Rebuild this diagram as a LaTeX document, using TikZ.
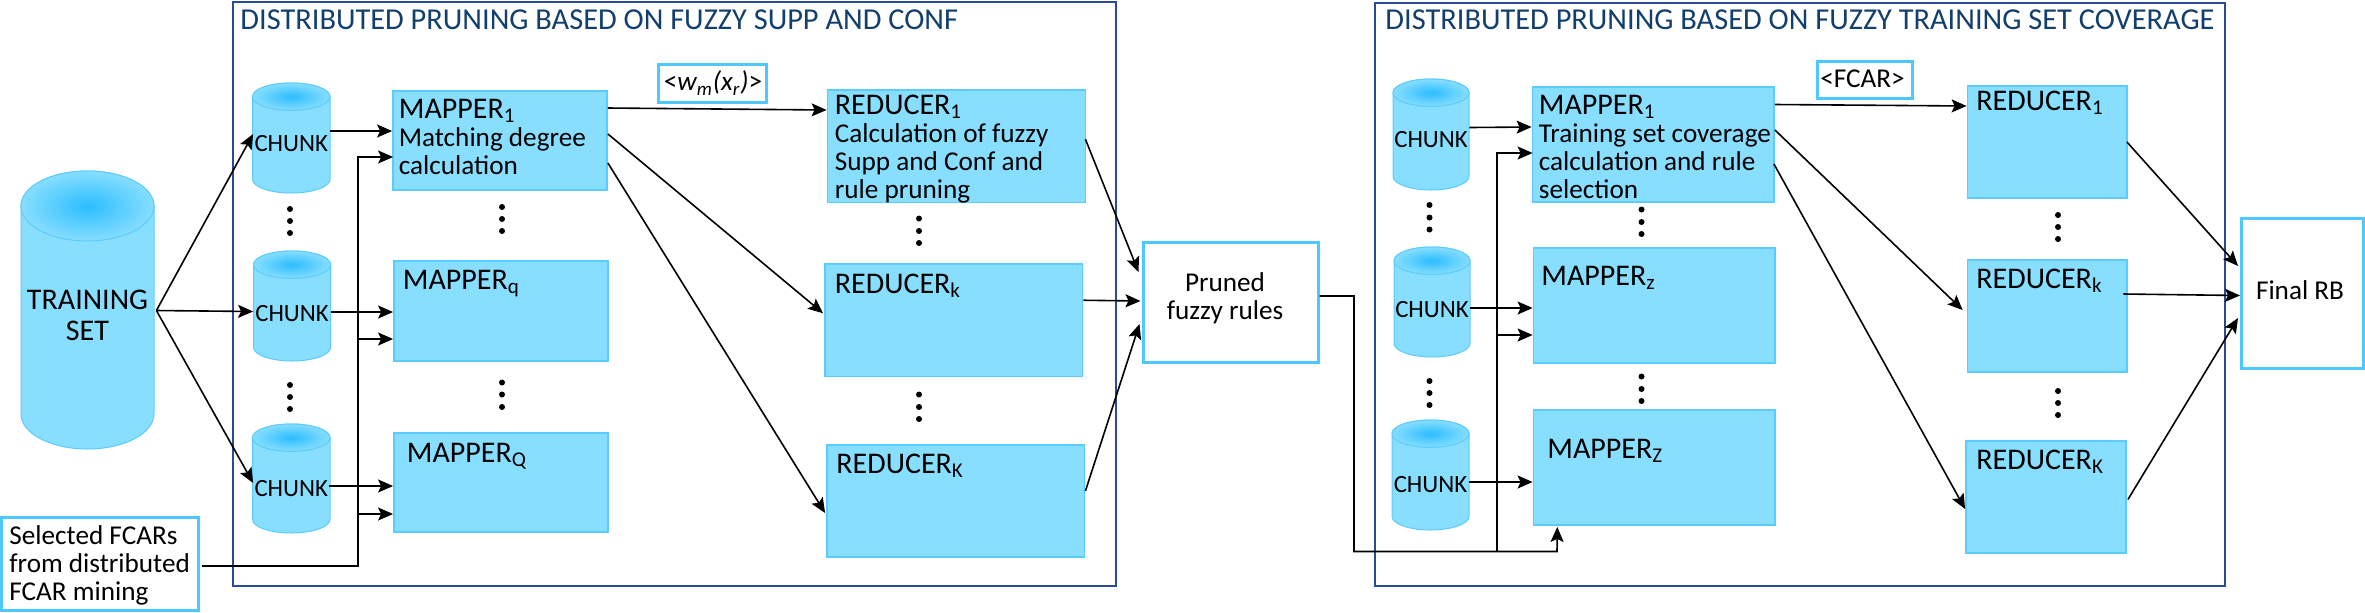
\documentclass[tikz,border=0pt]{standalone}
\usepackage{fontspec}
\setmainfont{Carlito}
\usetikzlibrary{arrows.meta}
\definecolor{bodyblue}{HTML}{87DEFF}
\definecolor{edgeblue}{HTML}{5CCBFF}
\definecolor{corecyan}{HTML}{2BBDFF}
\definecolor{framecyan}{HTML}{4CC9FF}
\definecolor{outerblue}{HTML}{2B4C94}
\definecolor{titleblue}{HTML}{123F6D}
\newcommand\Sub[1]{\textsubscript{#1}}
\newcommand\df{\fontsize{13.6}{14}\selectfont}
\tikzset{
  x=0.5pt,y=-0.5pt,
  dx/.style={xshift=0.5pt*#1},
  dy/.style={yshift=-0.5pt*#1},
  txt/.style={font=\df,inner sep=0pt,text=black},
  bluebox/.style={rectangle,draw=edgeblue,fill=bodyblue,line width=0.9pt,inner sep=0pt},
  whitebox/.style={rectangle,draw=framecyan,fill=white,line width=1.5pt,inner sep=0pt},
  outerbox/.style={rectangle,draw=outerblue,line width=0.8pt,inner sep=0pt},
  ttl/.style={font=\fontsize{15.2}{15}\selectfont,inner sep=0pt,text=titleblue,anchor=base west},
  lbl/.style={font=\fontsize{15}{14}\selectfont,inner sep=0pt,text=black,anchor=base west,align=left},
  conn/.style={draw=black,line width=0.8pt},
  arr/.style={conn,-{Stealth[length=7.5pt,width=6.5pt,inset=1.5pt]}},
  vdot/.style={circle,fill=black,inner sep=0pt,minimum size=3pt},
}
% rectangle node from its corners: style, name, x1, y1, x2, y2
\newcommand\Rct[6]{\node[#1,minimum width={(#5-#3)*0.5pt},minimum height={(#6-#4)*0.5pt}] (#2) at ({(#3+#5)/2},{(#4+#6)/2}) {};}
% cylinder: name, x1, y1, x2, y2, ry, text font, text, text drop
\newcommand\Cyl[9]{%
  \path[fill=bodyblue,draw=edgeblue,line width=0.5pt]
    (#2,{#3+#6}) -- (#2,{#5-#6})
    arc[start angle=180,end angle=360,x radius={(#4-#2)/4*1pt},y radius={#6*0.5pt}]
    -- (#4,{#3+#6})
    arc[start angle=0,end angle=180,x radius={(#4-#2)/4*1pt},y radius={#6*0.5pt}] -- cycle;
  \shade[inner color=corecyan,outer color=bodyblue,draw=edgeblue,line width=0.5pt]
    ({(#2+#4)/2},{#3+#6}) ellipse [x radius={(#4-#2)/4*1pt},y radius={#6*0.5pt}];
  \node[rectangle,inner sep=0pt,align=center,font=#7,text=black,minimum width={(#4-#2)*0.5pt},minimum height={(#5-#3)*0.5pt}] (#1)
    at ({(#2+#4)/2},{(#3+#5)/2}) {\raisebox{-#9pt}[0pt][0pt]{\begin{tabular}[b]{@{}c@{}}#8\end{tabular}}};}
% three dots: column, y1, y2, y3, prefix
\newcommand\Dots[5]{\node[vdot] (#5a) at (#1,#2) {};\node[vdot] (#5b) at (#1,#3) {};\node[vdot] (#5c) at (#1,#4) {};}
\begin{document}
\begin{tikzpicture}
\useasboundingbox (0,0) rectangle (2365,612);
% outer frames
\Rct{outerbox}{frameA}{233}{2}{1116}{586}
\Rct{outerbox}{frameB}{1375}{3}{2225}{586}
\node[ttl] (titleA) at (240,29) {DISTRIBUTED PRUNING BASED ON FUZZY SUPP AND CONF};
\node[ttl] (titleB) at (1385,29) {DISTRIBUTED PRUNING BASED ON FUZZY TRAINING SET COVERAGE};
% cylinders
\def\cfnt{\fontsize{12.4}{12}\selectfont}
\def\tfnt{\fontsize{15}{15.5}\selectfont}
\Cyl{ts}{21}{171}{154}{449}{35}{\tfnt}{TRAINING\\SET}{15.25}
\Cyl{ca}{252.5}{83}{330}{193}{13.7}{\cfnt}{CHUNK}{6.6}
\Cyl{cb}{253.5}{251}{330.6}{361}{13.7}{\cfnt}{CHUNK}{7.6}
\Cyl{cc}{252.5}{424}{330}{533}{13.7}{\cfnt}{CHUNK}{8.85}
\Cyl{cd}{1393}{79}{1469}{190}{13.7}{\cfnt}{CHUNK}{6.6}
\Cyl{ce}{1394}{247}{1470}{357}{13.7}{\cfnt}{CHUNK}{7.6}
\Cyl{cf}{1392}{420}{1469}{530}{13.7}{\cfnt}{CHUNK}{8.6}
% left mappers and reducers
\Rct{bluebox}{ma}{393}{91}{607}{190}
\Rct{bluebox}{mb}{394}{261}{608}{361}
\Rct{bluebox}{mc}{394}{433}{608}{532}
\Rct{bluebox}{ra}{827.5}{90}{1085.5}{202.5}
\Rct{bluebox}{rb}{825}{264}{1082.5}{376.5}
\Rct{bluebox}{rc}{827}{445}{1084.5}{557}
\node[lbl] (mat) at (398.5,174.5) {MAPPER\Sub{1}\\{\df Matching degree}\\{\df calculation}};
\node[lbl] (mbt) at (402.5,289) {MAPPER\Sub{q}};
\node[lbl] (mct) at (406.5,462) {MAPPER\Sub{Q}};
\node[lbl] (rat) at (834.5,198) {REDUCER\Sub{1}\\{\df Calculation of fuzzy}\\{\df Supp and Conf and}\\{\df rule pruning}};
\node[lbl] (rbt) at (834.5,293) {REDUCER\Sub{k}};
\node[lbl] (rct) at (836,473) {REDUCER\Sub{K}};
% right mappers and reducers
\Rct{bluebox}{md}{1532.5}{87}{1774}{202}
\Rct{bluebox}{me}{1533.5}{248}{1775}{363}
\Rct{bluebox}{mf}{1533.5}{410}{1775}{525}
\Rct{bluebox}{rd}{1967.5}{86}{2127}{198}
\Rct{bluebox}{re}{1967.5}{260}{2127}{372}
\Rct{bluebox}{rf}{1966}{441}{2126}{553}
\node[lbl] (mdt) at (1538.5,198) {MAPPER\Sub{1}\\{\df Training set coverage}\\{\df calculation and rule}\\{\df selection}};
\node[lbl] (met) at (1541,285) {MAPPER\Sub{z}};
\node[lbl] (mft) at (1547,458.5) {MAPPER\Sub{Z}};
\node[lbl] (rdt) at (1976,110) {REDUCER\Sub{1}};
\node[lbl] (ret) at (1976,288) {REDUCER\Sub{k}};
\node[lbl] (rft) at (1976,469) {REDUCER\Sub{K}};
% white boxes
\Rct{whitebox}{wm}{658}{64}{766}{102}
\node[txt] (wmt) at (713,83) {<\textit{w\Sub{m}(x\Sub{r})}>};
\Rct{whitebox}{fcar}{1817.5}{61}{1912.5}{98}
\node[txt] (fcart) at (1862.5,78.5) {<FCAR>};
\Rct{whitebox}{pr}{1143}{242}{1318}{362}
\node[txt,align=center,anchor=base] (prt) at (1225,319) {Pruned\\fuzzy rules};
\Rct{whitebox}{sel}{1.5}{517}{198}{610.5}
\node[txt,anchor=base west,align=left] (selt) at (9,600) {Selected FCARs\\from distributed\\FCAR mining};
\Rct{whitebox}{fin}{2241.5}{218}{2363.5}{368}
\node[txt] (fint) at (2300,290) {Final RB};
% vertical dots
\Dots{290}{209}{221}{233}{da}
\Dots{290}{385}{397}{409}{db}
\Dots{502}{207}{219}{231}{dc}
\Dots{502}{382.5}{394.5}{407}{dd}
\Dots{919}{218.5}{231}{243}{de}
\Dots{919}{394.5}{407}{419}{df}
\Dots{1429.5}{205}{217.5}{229.5}{dg}
\Dots{1429.5}{381}{393}{405}{dh}
\Dots{1641.5}{209.5}{222}{234}{di}
\Dots{1641.5}{376.5}{389}{401}{dj}
\Dots{2058}{215}{227}{239}{dk}
\Dots{2058}{391}{403}{415}{dl}
% training set to chunks
\draw[arr] ([dx=2,dy=0.5]ts.east) -- ([dx=1,dy=-4]ca.west);
\draw[arr] ([dx=2,dy=0.5]ts.east) -- ([dy=5.5]cb.west);
\draw[arr] ([dx=2,dy=0.5]ts.east) -- ([dx=1,dy=4.5]cc.west);
% chunks to mappers
\draw[arr] ([dy=-7]ca.east) -- ([dy=-9.5]ma.west);
\draw[arr] ([dy=6]cb.east) -- ([dy=1]mb.west);
\draw[arr] ([dx=-1,dy=7.5]cc.east) -- ([dy=3.5]mc.west);
\draw[arr] ([dy=-7]cd.east) -- ([dy=-17.5]md.west);
\draw[arr] ([dy=6]ce.east) -- ([dy=2.5]me.west);
\draw[arr] ([dy=7]cf.east) -- ([dy=14.5]mf.west);
% selected FCARs bus
\coordinate (busa) at (358,566);
\coordinate (busb) at (358,157);
\coordinate (busc) at (358,339);
\coordinate (busd) at (358,514);
\draw[arr] ([dx=2,dy=2.25]sel.east) -- (busa) -- (busb) -- ([dy=16.5,dx=1]ma.west);
\draw[arr] (busc) -- ([dy=28]mb.west);
\draw[arr] (busd) -- ([dy=31.5]mc.west);
% left mappers to reducers
\draw[arr] ([dy=-32.5]ma.east) -- ([dy=-36.25]ra.west);
\draw[arr] ([dy=-6.5]ma.east) -- ([dx=-1,dy=-7]rb.west);
\draw[arr] ([dy=22.5]ma.east) -- ([dx=-1,dy=12]rc.west);
% reducers to pruned rules
\draw[arr] ([dx=-1,dy=-7]ra.east) -- ([dx=-3,dy=-30]pr.west);
\draw[arr] ([dy=-20]rb.east) -- ([dx=-1,dy=-1]pr.west);
\draw[arr] ([dy=-10]rc.east) -- ([dx=-2,dy=22]pr.west);
% pruned rules to second stage
\coordinate (pa) at (1354,296);
\coordinate (pb) at (1354,551.5);
\coordinate (pc) at (1497,551.5);
\coordinate (pd) at (1497,153);
\coordinate (pe) at (1497,335);
\coordinate (pf) at (1557,551.5);
\draw[arr] ([dy=-6]pr.east) -- (pa) -- (pb) -- (pf) -- ([dx=-97,dy=1]mf.south);
\draw[arr] (pc) -- (pd) -- ([dy=8.5,dx=1]md.west);
\draw[arr] (pe) -- ([dy=29.5]me.west);
% right mappers to reducers
\draw[arr] ([dy=-40]md.east) -- ([dy=-36]rd.west);
\draw[arr] ([dy=-14.5]md.east) -- ([dx=-4,dy=-6]re.west);
\draw[arr] ([dx=-1,dy=19.5]md.east) -- ([dy=12]rf.west);
% reducers to final
\draw[arr] ([dx=-1,dy=-0]rd.east) -- ([dx=-2,dy=-27]fin.west);
\draw[arr] ([dx=-4.5,dy=-22]re.east) -- ([dy=2.5]fin.west);
\draw[arr] ([dx=1,dy=2.5]rf.east) -- ([dx=-2,dy=25]fin.west);
\end{tikzpicture}
\end{document}
